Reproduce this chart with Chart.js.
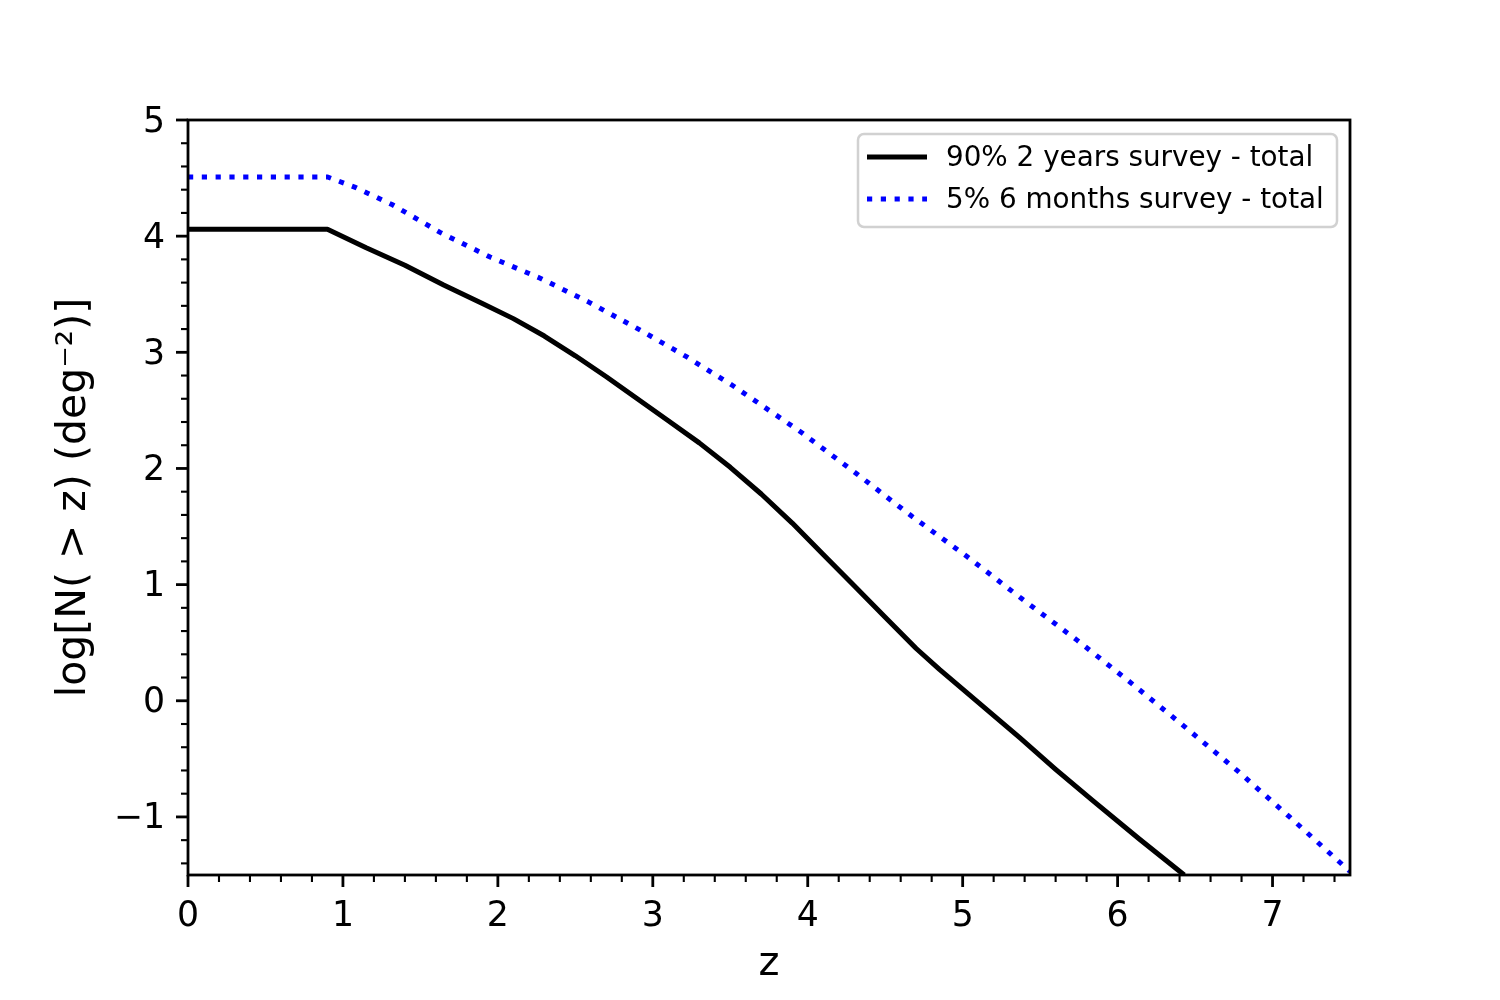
<!DOCTYPE html>
<html><head><meta charset="utf-8">
<script src="https://cdn.jsdelivr.net/npm/chart.js@4.4.1/dist/chart.umd.min.js"></script>
<style>html,body{margin:0;padding:0;background:#fff;}#wrap{width:1500px;height:1000px;}</style>
</head><body><div id="wrap"><canvas id="c" width="1500" height="1000"></canvas></div>
<script>
// ---- data ----
const zBlack = [0, 0.9, 1.15, 1.4, 1.65, 1.9, 2.1, 2.3, 2.5, 2.7, 2.9, 3.1, 3.3, 3.5, 3.7, 3.9, 4.1, 4.3, 4.5, 4.7, 4.85, 5.0, 5.37, 5.6, 5.84, 6.14, 6.43];
const nBlack = [4.06, 4.06, 3.90, 3.75, 3.58, 3.42, 3.29, 3.14, 2.97, 2.79, 2.60, 2.41, 2.22, 2.01, 1.78, 1.53, 1.26, 0.99, 0.72, 0.45, 0.27, 0.10, -0.32, -0.59, -0.86, -1.19, -1.50];
const zBlue = [0, 0.9, 1.08, 1.32, 1.63, 1.95, 2.27, 2.59, 2.92, 3.22, 3.52, 3.96, 4.32, 4.67, 5.03, 5.38, 5.74, 6.09, 6.43, 6.78, 7.11, 7.5];
const nBlue = [4.51, 4.51, 4.42, 4.27, 4.03, 3.82, 3.64, 3.43, 3.19, 2.96, 2.71, 2.31, 1.95, 1.59, 1.24, 0.88, 0.52, 0.15, -0.22, -0.61, -1.00, -1.47];
const seriesLabels = ['90% 2 years survey - total', '5% 6 months survey - total'];
const xTickValues = [0, 1, 2, 3, 4, 5, 6, 7];
const yTickValues = [-1, 0, 1, 2, 3, 4, 5];
const xMinorStep = 0.2;
const yMinorStep = 0.2;
const xTitle = 'z';
const yTitle = 'log[N( > z) (deg\u207B\u00B2)]';

const FONT = "'DejaVu Sans', sans-serif";
const fmt = v => (v < 0 ? '\u2212' + Math.abs(v) : String(v));
const toPts = (xs, ys) => xs.map((x, i) => ({x: x, y: ys[i]}));

const framePlugin = {
  id: 'frame',
  afterDraw(chart) {
    const ctx = chart.ctx;
    const {left, right, top, bottom} = chart.chartArea;
    const xs = chart.scales.x, ys = chart.scales.y;
    ctx.save();
    ctx.strokeStyle = '#000';
    ctx.lineCap = 'butt';
    const xMin = xs.min, xMax = xs.max;
    for (let k = Math.ceil(xMin / xMinorStep - 1e-9); k * xMinorStep <= xMax + 1e-9; k++) {
      const v = +(k * xMinorStep).toFixed(6);
      const major = xTickValues.some(t => Math.abs(t - v) < 1e-6);
      const px = xs.getPixelForValue(v);
      ctx.lineWidth = major ? 2.8 : 2.1;
      ctx.beginPath();
      ctx.moveTo(px, bottom);
      ctx.lineTo(px, bottom + (major ? 12 : 7));
      ctx.stroke();
    }
    const yMin = ys.min, yMax = ys.max;
    for (let k = Math.ceil(yMin / yMinorStep - 1e-9); k * yMinorStep <= yMax + 1e-9; k++) {
      const v = +(k * yMinorStep).toFixed(6);
      const major = yTickValues.some(t => Math.abs(t - v) < 1e-6);
      const py = ys.getPixelForValue(v);
      ctx.lineWidth = major ? 2.8 : 2.1;
      ctx.beginPath();
      ctx.moveTo(left, py);
      ctx.lineTo(left - (major ? 12 : 7), py);
      ctx.stroke();
    }
    ctx.lineWidth = 2.8;
    ctx.strokeRect(left, top, right - left, bottom - top);

    // legend
    const bx = 858, by = 134, bw = 479, bh = 93, r = 6;
    ctx.beginPath();
    ctx.moveTo(bx + r, by);
    ctx.arcTo(bx + bw, by, bx + bw, by + bh, r);
    ctx.arcTo(bx + bw, by + bh, bx, by + bh, r);
    ctx.arcTo(bx, by + bh, bx, by, r);
    ctx.arcTo(bx, by, bx + bw, by, r);
    ctx.closePath();
    ctx.fillStyle = 'rgba(255,255,255,0.8)';
    ctx.fill();
    ctx.strokeStyle = 'rgba(204,204,204,0.9)';
    ctx.lineWidth = 2.5;
    ctx.stroke();
    const rows = [157, 199];
    chart.data.datasets.forEach((ds, i) => {
      const y = rows[i];
      ctx.strokeStyle = ds.borderColor;
      ctx.lineWidth = ds.borderWidth;
      ctx.setLineDash(ds.borderDash || []);
      ctx.lineCap = 'butt';
      ctx.beginPath();
      ctx.moveTo(867, y);
      ctx.lineTo(927, y);
      ctx.stroke();
      ctx.setLineDash([]);
      ctx.fillStyle = '#000';
      ctx.font = "27.8px " + FONT;
      ctx.textBaseline = 'middle';
      ctx.textAlign = 'left';
      ctx.fillText(ds.label, 946, y + 1.5);
    });
    ctx.restore();
  }
};

new Chart(document.getElementById('c'), {
  type: 'line',
  data: {
    datasets: [
      {label: seriesLabels[0], data: toPts(zBlack, nBlack), borderColor: '#000000', borderWidth: 5,
       pointRadius: 0, tension: 0, fill: false, clip: 0, borderJoinStyle: 'round'},
      {label: seriesLabels[1], data: toPts(zBlue, nBlue), borderColor: '#0000ff', borderWidth: 5,
       borderDash: [5.2, 8.6], borderCapStyle: 'butt', pointRadius: 0, tension: 0, fill: false, clip: 0}
    ]
  },
  options: {
    responsive: false,
    animation: false,
    layout: {padding: {top: 120, right: 150, left: 0, bottom: 0}},
    plugins: {legend: {display: false}, tooltip: {enabled: false}},
    scales: {
      x: {
        type: 'linear', min: 0, max: 7.5,
        afterBuildTicks: s => { s.ticks = xTickValues.map(v => ({value: v})); },
        afterFit: s => { s.height = 125; },
        grid: {display: false, drawTicks: false, tickLength: 0},
        border: {display: false},
        ticks: {padding: 21, autoSkip: false, maxRotation: 0, color: '#000',
                font: {family: FONT, size: 34.7}, callback: v => fmt(v)},
        title: {display: true, text: xTitle, color: '#000', font: {family: FONT, size: 40},
                padding: {top: 0, bottom: 11}}
      },
      y: {
        type: 'linear', min: -1.5, max: 5,
        afterBuildTicks: s => { s.ticks = yTickValues.map(v => ({value: v})); },
        afterFit: s => { s.width = 188; },
        grid: {display: false, drawTicks: false, tickLength: 0},
        border: {display: false},
        ticks: {padding: 23, labelOffset: 2.5, autoSkip: false, color: '#000',
                font: {family: FONT, size: 34.7}, callback: v => fmt(v)},
        title: {display: true, text: yTitle, color: '#000', font: {family: FONT, size: 41},
                padding: {top: 50, bottom: 0}}
      }
    }
  },
  plugins: [framePlugin]
});
</script></body></html>
